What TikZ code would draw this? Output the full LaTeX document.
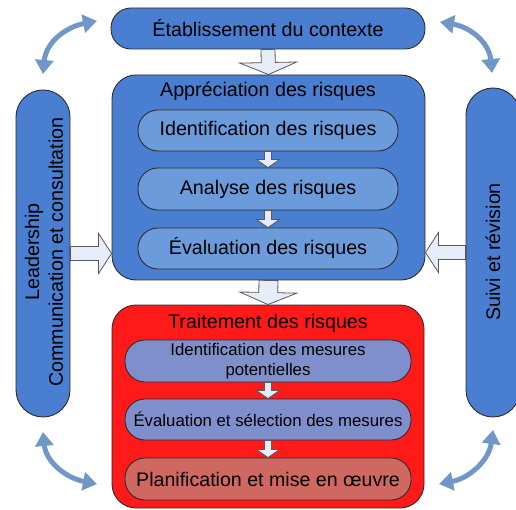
\documentclass[tikz,border=0pt]{standalone}
\usepackage{fontspec}
\setmainfont{Liberation Sans}
\usetikzlibrary{arrows.meta,calc}
\definecolor{mainblue}{RGB}{74,126,209}
\definecolor{subblue}{RGB}{108,155,220}
\definecolor{tred}{RGB}{255,26,26}
\definecolor{tpurple}{RGB}{127,143,203}
\definecolor{tsalmon}{RGB}{208,104,98}
\definecolor{barrow}{RGB}{230,237,248}
\definecolor{carrow}{RGB}{112,151,200}
\definecolor{edgegray}{RGB}{45,45,45}
\newcommand\blkarrow[5]{%
  \coordinate (ba-h) at ($(#2)!#5!(#1)$);
  \draw[blockfill] ($(#1)!#3!90:(#2)$) -- ($(ba-h)!#3!-90:(#1)$) -- ($(ba-h)!#4!-90:(#1)$) -- (#2) -- ($(ba-h)!#4!90:(#1)$) -- ($(ba-h)!#3!90:(#1)$) -- ($(#1)!#3!-90:(#2)$) -- cycle;}
\begin{document}
\begin{tikzpicture}[x=1pt,y=-1pt,
  box/.style={draw=edgegray,line width=0.9pt,inner sep=0pt,text=black,
    font=\fontsize{19.7}{23.6}\selectfont},
  bigbox/.style={box,fill=mainblue,rounded corners=24pt},
  subbox/.style={box,fill=subblue,minimum width=260pt,rounded corners=20pt},
  trbox/.style={box,fill=tpurple,minimum width=286pt,rounded corners=20pt,
    font=\fontsize{16.8}{20}\selectfont,align=center},
  bar/.style={box,fill=mainblue,minimum width=54pt,rounded corners=27pt},
  blockfill/.style={draw=gray!70!black,line width=0.8pt,fill=barrow,line join=miter},
  curvarrow/.style={draw=carrow,line width=5pt,
    {Triangle[length=14pt,width=18pt]}-{Triangle[length=14pt,width=18pt]}},
  titletext/.style={inner sep=0pt,font=\fontsize{19.7}{23.6}\selectfont}]
\useasboundingbox (0,0) rectangle (516,510);
% main boxes
\node[box,fill=mainblue,minimum width=314pt,minimum height=41pt,rounded corners=20pt] (ctx) at (268,28.5) {Établissement du contexte};
\node[bigbox,minimum width=313pt,minimum height=205pt] (appr) at (268.5,177.5) {};
\node[titletext] (apprt) at (268,91) {Appréciation des risques};
\node[subbox,minimum height=41pt] (id1) at (268,130.5) {Identification des risques};
\node[subbox,minimum height=42pt] (an) at (268,189) {Analyse des risques};
\node[subbox,minimum height=41pt] (ev) at (268,248.5) {Évaluation des risques};
\node[bigbox,fill=tred,minimum width=312pt,minimum height=203pt] (trait) at (268,406.5) {};
\node[titletext] (traitt) at (268,323) {Traitement des risques};
\node[trbox,minimum height=42pt] (m1) at (268,361) {Identification des mesures\\potentielles};
\node[trbox,minimum height=41pt] (m2) at (268,419.5) {Évaluation et sélection des mesures};
\node[trbox,fill=tsalmon,minimum height=42pt,font=\fontsize{19.6}{23.6}\selectfont] (m3) at (268,479) {Planification et mise en œuvre};
\node[bar,minimum height=327pt] (lbar) at (43,253.5) {};
\node[titletext,rotate=90,align=center] (lbart) at (44,252) {Leadership\\Communication et consultation};
\node[bar,minimum height=329pt] (rbar) at (493,252.5) {};
\node[titletext,rotate=90] (rbart) at (493,252) {Suivi et révision};
% block arrows
\blkarrow{ctx.south}{appr.north}{7pt}{28.5pt}{12pt}
\blkarrow{appr.south}{trait.north}{9.5pt}{28.5pt}{12pt}
\coordinate (ltip) at (appr.west |- lbar.east);
\coordinate (rtip) at (appr.east |- rbar.west);
\blkarrow{lbar.east}{ltip}{7pt}{20pt}{13pt}
\blkarrow{rbar.west}{rtip}{7pt}{20pt}{13pt}
\blkarrow{id1.south}{an.north}{3.5pt}{11.5pt}{8pt}
\blkarrow{an.south}{ev.north}{3.5pt}{11.5pt}{8pt}
\blkarrow{m1.south}{m2.north}{3.5pt}{11.5pt}{8pt}
\blkarrow{m2.south}{m3.north}{3.5pt}{11.5pt}{8pt}
% curved double arrows
\coordinate (tla) at (43,74);
\coordinate (tlb) at (97,21);
\coordinate (tra) at (440,22);
\coordinate (trb) at (492,73);
\coordinate (bla) at (43,432);
\coordinate (blb) at (97,484);
\coordinate (bra) at (493,430);
\coordinate (brb) at (439,484);
\draw[curvarrow] (tla) .. controls (46,42) and (66,27) .. (tlb);
\draw[curvarrow] (tra) .. controls (470,27) and (489,42) .. (trb);
\draw[curvarrow] (bla) .. controls (46,462) and (66,478) .. (blb);
\draw[curvarrow] (bra) .. controls (489,460) and (470,478) .. (brb);
\end{tikzpicture}
\end{document}
